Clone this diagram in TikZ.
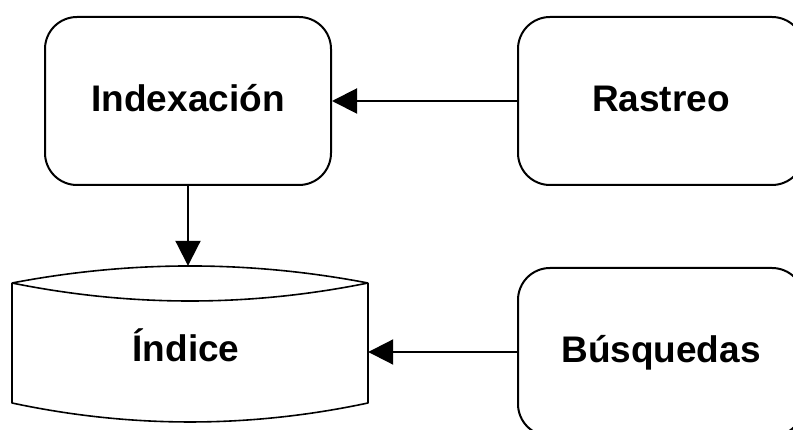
\documentclass[tikz,border=0pt]{standalone}
\usepackage{fontspec}
\setmainfont{Liberation Sans}
\usetikzlibrary{arrows.meta}
\begin{document}
\begin{tikzpicture}[x=1pt,y=-1pt,
  proc/.style={draw=black, line width=2pt, rounded corners=32pt, minimum width=286pt, minimum height=168pt, inner sep=0pt, font=\fontsize{37}{44}\bfseries\selectfont, text height=22pt, text depth=0pt},
  lbl/.style={font=\fontsize{37}{44}\bfseries\selectfont, inner sep=0pt},
  conn/.style={line width=2pt, -{Triangle[length=25pt,width=25pt]}}]
\useasboundingbox (0,0) rectangle (793,430);
\node[proc] (indexacion) at (188,101) {Indexación};
\node[proc] (rastreo) at (661,101) {Rastreo};
\node[proc] (busquedas) at (661,352) {Búsquedas};
% cylinder
\node[minimum width=356pt, minimum height=156pt, inner sep=0pt] (indice) at (190,344) {};
\draw[line width=1.6pt, line join=round]
  (12,283) .. controls (130.7,260.3) and (249.3,260.3) .. (368,283)
  (12,283) .. controls (130.7,307) and (249.3,307) .. (368,283)
  (12,283) -- (12,403) .. controls (130.7,428.3) and (249.3,428.3) .. (368,403) -- (368,283);
\node[lbl, anchor=base] (indicetext) at (186,362) {Índice};
\draw[conn] (rastreo.west) -- (indexacion.east);
\draw[conn] (indexacion.south) -- (indexacion.south |- indice.north);
\draw[conn] (busquedas.west) -- (busquedas.west -| indice.east);
\end{tikzpicture}
\end{document}
